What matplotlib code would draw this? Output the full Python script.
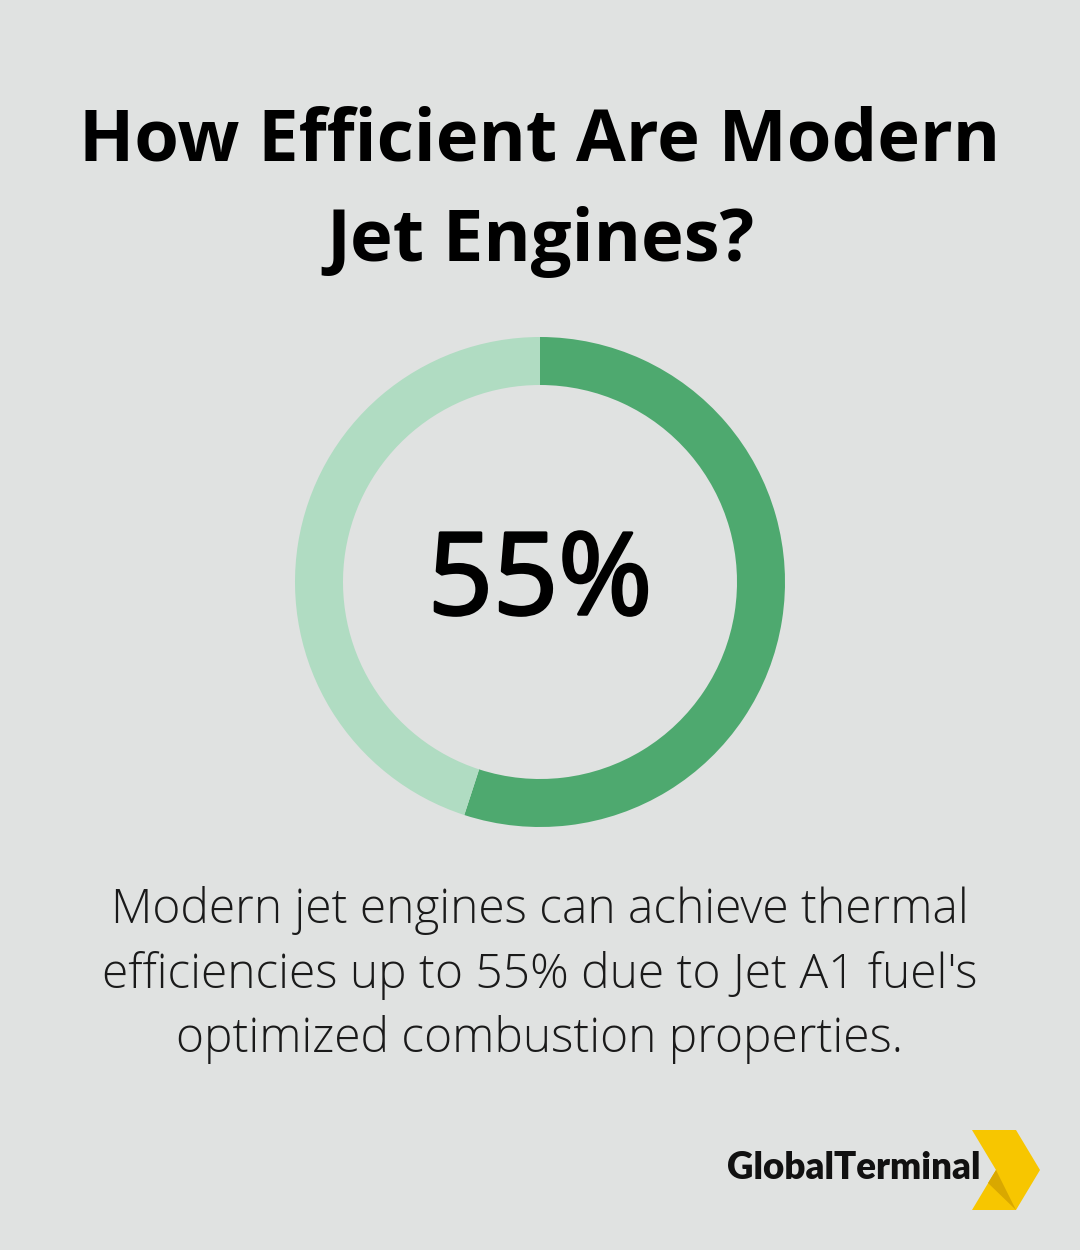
import matplotlib.pyplot as plt
import matplotlib.patheffects as pe
from matplotlib.patches import Polygon

# data
labels = ['Efficiency', 'Remainder']
values = [55, 45]
center_label = '55%'
title = 'How Efficient Are Modern\nJet Engines?'
caption = ("Modern jet engines can achieve thermal\n"
           "efficiencies up to 55% due to Jet A1 fuel's\n"
           "optimized combustion properties.")
brand = 'GlobalTerminal'

bg = '#E0E2E1'
colors = ['#4EA96F', '#B0DCC2']

W, H = 1080, 1250
fig = plt.figure(figsize=(W / 100, H / 100), dpi=100, facecolor=bg)

# donut
cx, cy, r = 540, 582, 245
ax = fig.add_axes([(cx - r) / W, (H - cy - r) / H, 2 * r / W, 2 * r / H])
ax.pie(values, colors=colors, startangle=90, counterclock=False,
       wedgeprops=dict(width=48 / r, linewidth=0))
ax.set_xlim(-1, 1)
ax.set_ylim(-1, 1)
ax.set_aspect('equal')
ax.axis('off')
ax.text(0, -0.01, center_label, ha='center', va='center', fontsize=82,
        family='Open Sans', color='black',
        path_effects=[pe.withStroke(linewidth=2.2, foreground='black')])

# title
fig.text(0.5, 1 - 192 / H, title, ha='center', va='center', fontsize=52,
         fontweight='bold', family='Open Sans', color='black', linespacing=1.52)

# caption
fig.text(0.5, 1 - 975 / H, caption, ha='center', va='center', fontsize=34.5,
         fontweight='light', family='Open Sans', color='#1a1a1a', linespacing=1.42)

# logo
fig.text(980 / W, 1 - 1168 / H, brand, ha='right', va='center', fontsize=26.5,
         fontweight='heavy', family='Lato', color='#111111')
lax = fig.add_axes([0, 0, 1, 1], facecolor='none')
lax.set_xlim(0, W)
lax.set_ylim(H, 0)
lax.axis('off')
lax.add_patch(Polygon([(972, 1130), (1016, 1130), (1040, 1170), (1016, 1210),
                       (972, 1210), (996, 1170)], closed=True,
                      facecolor='#F7C600', edgecolor='none'))
lax.add_patch(Polygon([(996, 1170), (988, 1183), (1016, 1210)], closed=True,
                      facecolor='#D9A800', edgecolor='none'))

fig.savefig('out.png', dpi=100, facecolor=bg)
